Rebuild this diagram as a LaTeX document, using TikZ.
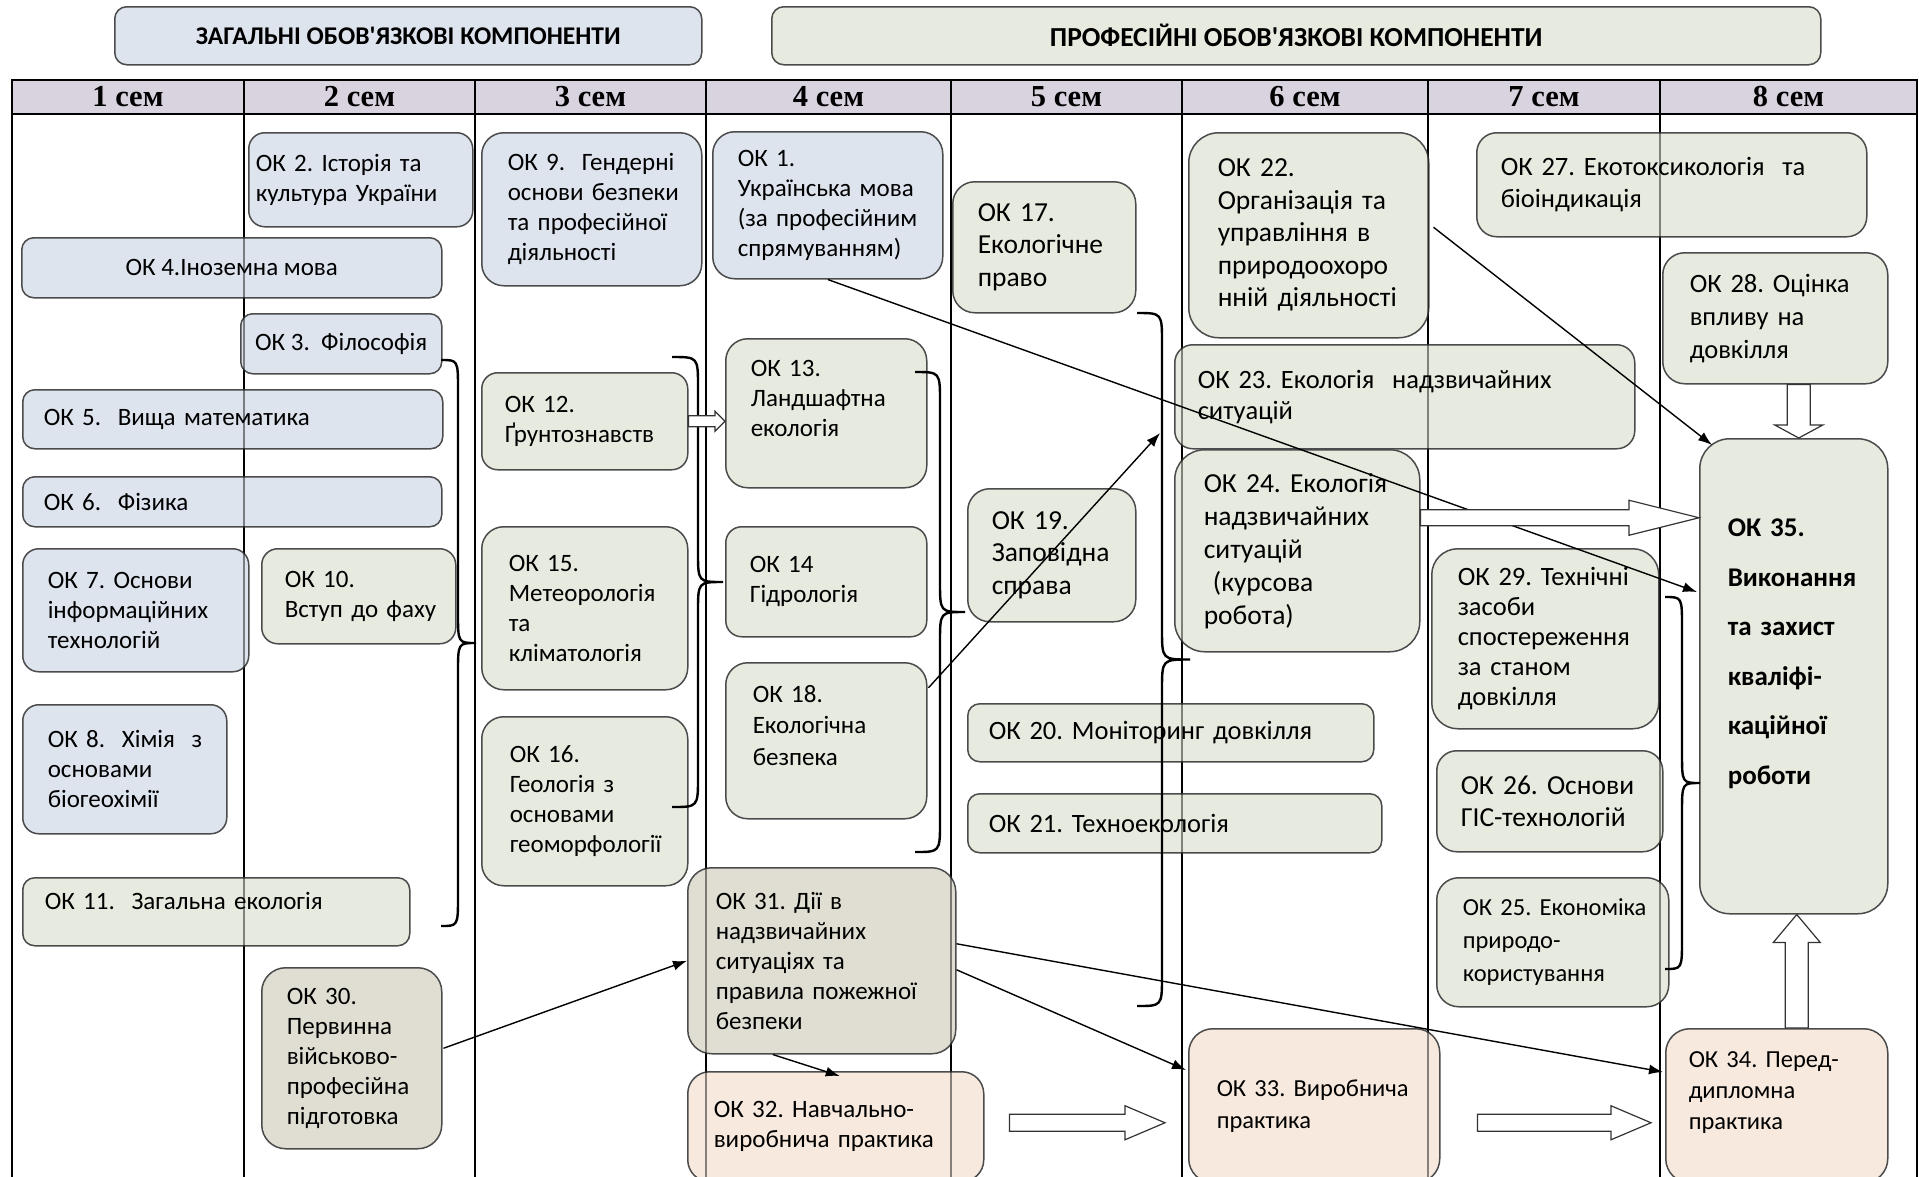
\documentclass[tikz,border=0pt]{standalone}
\usepackage{fontspec}
\setmainfont{Carlito}
\newfontfamily\semfont{Liberation Serif}
\usetikzlibrary{arrows.meta,calc}
\definecolor{genfill}{RGB}{221,228,238}
\definecolor{proffill}{RGB}{231,234,223}
\definecolor{darkfill}{RGB}{224,222,210}
\definecolor{practfill}{RGB}{247,233,221}
\definecolor{semfill}{RGB}{217,211,224}
\definecolor{boxline}{RGB}{75,75,75}
\frenchspacing

\begin{document}
\begin{tikzpicture}[x=1pt,y=-1pt,
        okbox/.style={draw=boxline,line width=1.5pt,rounded corners=16pt,anchor=north west,align=left,inner ysep=0pt,font=\fontsize{25}{30}\selectfont},
        gen/.style={okbox,fill=genfill},
        prof/.style={okbox,fill=proffill},
        dark/.style={okbox,fill=darkfill},
        pract/.style={okbox,fill=practfill},
        wide/.style={font=\fontsize{27.5}{32.5}\selectfont},
        mid/.style={font=\fontsize{26.5}{32}\selectfont},
        small/.style={font=\fontsize{24.5}{32}\selectfont},
        semhead/.style={font=\semfont\bfseries\fontsize{30.5}{32}\selectfont},
        thinarr/.style={line width=1.4pt,-{Latex[length=14pt,width=10pt]}},
        fatarr/.style={draw=black!80,line width=1.2pt,fill=white},
        brace/.style={line width=2.4pt}]
    \useasboundingbox (0,0) rectangle (1919,1176);
    % table of semesters
    \fill[semfill] (12,80) rectangle (1917,114);
    \draw[line width=1.8pt] (12,80) rectangle (1917,1200);
    \draw[line width=1.8pt] (12,114) -- (1917,114);
    \foreach \x in {244,475,706,951,1182,1428,1660}
        \draw[line width=1.3pt] (\x,80) -- (\x,1200);
    \foreach \n/\x in {1/128,2/359.5,3/590.5,4/828.5,5/1066.5,6/1305,7/1544,8/1788.5}
        \node[semhead] (sem\n) at (\x,97) {\n{} сем};
    % groups
    \node[draw=boxline,line width=1.5pt,rounded corners=12pt,fill=genfill,anchor=north west,minimum width=587pt,minimum height=58pt,font=\bfseries\fontsize{25.5}{27}\selectfont] (gencomp) at (114,6) {ЗАГАЛЬНІ ОБОВ\textquotesingle ЯЗКОВІ КОМПОНЕНТИ};
    \node[draw=boxline,line width=1.5pt,rounded corners=12pt,fill=proffill,anchor=north west,minimum width=1049pt,minimum height=58pt,font=\bfseries\fontsize{27.5}{29}\selectfont] (profcomp) at (771,6) {ПРОФЕСІЙНІ ОБОВ\textquotesingle ЯЗКОВІ КОМПОНЕНТИ};

    % 1-2 sem
    \node[gen,minimum width=224pt,minimum height=94pt,inner xsep=7pt,text width=210pt] (ok2) at (248,132) {ОК~2. Історія~та\\культура~України};
    \node[gen,minimum width=420pt,minimum height=60pt,align=center,rounded corners=12pt] (ok4) at (21,237) {ОК 4.Іноземна мова};
    \node[gen,minimum width=201pt,minimum height=60pt,align=center,rounded corners=12pt] (ok3) at (240,313) {ОК~3.~~Філософія};
    \node[gen,minimum width=420pt,minimum height=59pt,inner xsep=21pt,text width=378pt,rounded corners=12pt] (ok5) at (22,389) {ОК 5.~~Вища математика};
    \node[gen,minimum width=419pt,minimum height=50pt,inner xsep=21pt,text width=377pt,rounded corners=12pt] (ok6) at (22,476) {ОК 6.~~Фізика};
    \node[gen,minimum width=226pt,minimum height=123pt,inner xsep=25pt,text width=176pt] (ok7) at (22,548) {ОК~7. Основи\\інформаційних\\технологій};
    \node[prof,minimum width=194pt,minimum height=95pt,inner xsep=23pt,text width=148pt] (ok10) at (261,548) {ОК 10.\\Вступ~до~фаху};
    \node[gen,minimum width=204pt,minimum height=129pt,inner xsep=25pt,text width=154pt] (ok8) at (22,704) {ОК~8.~~Хімія~~з\\основами\\біогеохімії};
    \node[prof,minimum width=387pt,minimum height=68pt,inner xsep=22pt,text width=343pt,rounded corners=12pt] (ok11) at (22,877) {ОК 11.~~Загальна екологія\\[-8pt]\mbox{}};
    \node[dark,minimum width=180pt,minimum height=181pt,inner xsep=25pt,text width=130pt,rounded corners=24pt] (ok30) at (261,967) {ОК 30.\\Первинна\\військово-\\професійна\\підготовка};

    % 3-4 sem
    \node[gen,minimum width=220pt,minimum height=153pt,inner xsep=26pt,text width=168pt,rounded corners=22pt] (ok9) at (481,132) {ОК~9.~~Гендерні\\основи~безпеки\\та~професійної\\діяльності};
    \node[prof,minimum width=206pt,minimum height=97pt,inner xsep=23pt,text width=160pt] (ok12) at (481,372) {ОК 12.\\Ґрунтознавств};
    \node[prof,minimum width=206pt,minimum height=163pt,inner xsep=27pt,text width=152pt,rounded corners=22pt] (ok15) at (481,526) {ОК 15.\\Метеорологія\\та\\кліматологія};
    \node[prof,minimum width=206pt,minimum height=169pt,inner xsep=28pt,text width=150pt,rounded corners=22pt] (ok16) at (481,716) {ОК 16.\\Геологія~з\\основами\\геоморфології};
    \node[gen,minimum width=230pt,minimum height=147pt,inner xsep=25pt,text width=180pt,rounded corners=22pt] (ok1) at (712,131) {ОК 1.\\Українська~мова\\(за~професійним\\спрямуванням)};
    \node[prof,minimum width=201pt,minimum height=149pt,inner xsep=25pt,text width=151pt,rounded corners=22pt] (ok13) at (725,338) {ОК 13.\\Ландшафтна\\екологія\\\mbox{}};
    \node[prof,minimum width=201pt,minimum height=110pt,inner xsep=24pt,text width=153pt] (ok14) at (725,526) {ОК 14\\Гідрологія};
    \node[prof,font=\fontsize{25}{31.5}\selectfont,minimum width=201pt,minimum height=156pt,inner xsep=27pt,text width=147pt,rounded corners=22pt] (ok18) at (725,662) {ОК 18.\\Екологічна\\безпека\\\mbox{}};
    \node[dark,minimum width=268pt,minimum height=186pt,inner xsep=28pt,text width=212pt,rounded corners=24pt] (ok31) at (687,867) {ОК~31.~Дії~в\\надзвичайних\\ситуаціях~та\\правила~пожежної\\безпеки};
    \node[pract,minimum width=296pt,minimum height=110pt,inner xsep=26pt,text width=244pt,rounded corners=22pt] (ok32) at (687,1071) {ОК~32. Навчально-\\виробнича~практика};

    % 5-6 sem
    \node[prof,wide,minimum width=183pt,minimum height=131pt,inner xsep=25pt,text width=133pt,rounded corners=22pt] (ok17) at (952,181) {ОК 17.\\Екологічне\\право};
    \node[prof,wide,minimum width=168pt,minimum height=133pt,inner xsep=24pt,text width=120pt,rounded corners=22pt] (ok19) at (967,488) {ОК 19.\\Заповідна\\справа};
    \node[prof,mid,minimum width=406pt,minimum height=58pt,inner xsep=21pt,text width=364pt,rounded corners=12pt] (ok20) at (967,703) {ОК 20. Моніторинг довкілля};
    \node[prof,mid,minimum width=414pt,minimum height=59pt,inner xsep=21pt,text width=372pt,rounded corners=12pt] (ok21) at (967,793) {ОК 21. Техноекологія};
    \node[prof,wide,minimum width=240pt,minimum height=205pt,inner xsep=29pt,text width=182pt,rounded corners=30pt] (ok22) at (1188,132) {ОК 22.\\Організація~та\\управління~в\\природоохоро\\нній~діяльності};
    \node[prof,font=\fontsize{26.5}{31}\selectfont,minimum width=460pt,minimum height=104pt,inner xsep=23pt,text width=414pt,rounded corners=18pt] (ok23) at (1174,344) {ОК 23. Екологія~~надзвичайних\\ситуацій};
    \node[prof,font=\fontsize{27.5}{33}\selectfont,minimum width=245pt,minimum height=202pt,inner xsep=29pt,text width=187pt,rounded corners=30pt] (ok24) at (1174,449) {ОК~24.~Екологія\\надзвичайних\\ситуацій\\\ (курсова\\робота)};
    \node[pract,small,minimum width=251pt,minimum height=154pt,inner xsep=28pt,text width=195pt,rounded corners=24pt] (ok33) at (1188,1028) {ОК~33.~Виробнича\\практика};

    % 7-8 sem
    \node[prof,mid,minimum width=390pt,minimum height=104pt,inner xsep=24pt,text width=342pt,rounded corners=20pt] (ok27) at (1476,132) {ОК 27. Екотоксикологія~~та\\біоіндикація};
    \node[prof,font=\fontsize{26.5}{33}\selectfont,minimum width=225pt,minimum height=131pt,inner xsep=27pt,text width=171pt,rounded corners=22pt] (ok28) at (1662,252) {ОК~28.~Оцінка\\впливу~на\\довкілля};
    \node[prof,font=\bfseries\fontsize{27}{49.5}\selectfont,minimum width=188pt,minimum height=475pt,inner xsep=28pt,text width=132pt,rounded corners=30pt] (ok35) at (1699,438) {ОК 35.\\Виконання\\та~захист\\кваліфі-\\каційної\\роботи\\\mbox{}};
    \node[prof,font=\fontsize{26.5}{30}\selectfont,minimum width=227pt,minimum height=180pt,inner xsep=26pt,text width=175pt,rounded corners=26pt] (ok29) at (1431,548) {ОК~29.~Технічні\\засоби\\спостереження\\за~станом\\довкілля};
    \node[prof,wide,minimum width=226pt,minimum height=101pt,inner xsep=24pt,text width=178pt,rounded corners=20pt] (ok26) at (1436,750) {ОК~26.~Основи\\\mbox{ГІС-технологій}};
    \node[prof,font=\fontsize{24.5}{33}\selectfont,minimum width=232pt,minimum height=129pt,inner xsep=26pt,text width=180pt,rounded corners=22pt] (ok25) at (1436,877) {ОК~25.~Економіка\\природо-\\користування};
    \node[pract,font=\fontsize{24.5}{31}\selectfont,minimum width=222pt,minimum height=154pt,inner xsep=23pt,text width=176pt,rounded corners=24pt] (ok34) at (1665,1028) {ОК~34.~Перед-\\дипломна\\практика\\\mbox{}};

    % column lines seen through the boxes
    \foreach \x in {244,475,706,951,1182,1428,1660}
        \draw[line width=1.2pt,opacity=0.45] (\x,114) -- (\x,1200);

    % braces
    \foreach \xa/\ya/\yb/\xv/\xt in {441/360/926/458/476,672/357/807/698/723,915/372/852/940/965,1137/313/1006/1162/1190,1665/597/969/1682/1700}{
        \pgfmathsetmacro\ym{(\ya+\yb)/2}
        \draw[brace] (\xa,\ya) .. controls (\xv,\ya) .. (\xv,\ya+30) -- (\xv,\ym-30) .. controls (\xv,\ym) .. (\xt,\ym)
            .. controls (\xv,\ym) .. (\xv,\ym+30) -- (\xv,\yb-30) .. controls (\xv,\yb) .. (\xa,\yb);
    }

    % links
    \coordinate (ok18tip) at (1160,433);
    \draw[thinarr] (ok1.south) -- ($(ok35.north west)+(-2,154)$);
    \draw[thinarr] ($(ok22.east)+(4,-8)$) -- ($(ok35.north west)+(13,7)$);
    \draw[thinarr] ($(ok18.east)+(1,-53)$) -- (ok18tip);
    \draw[thinarr] ($(ok30.east)+(1,-10)$) -- (ok31.west);
    \draw[thinarr] ($(ok31.south)+(-49,0)$) -- ($(ok32.north)+(4,5)$);
    \draw[thinarr] ($(ok31.east)+(0,9)$) -- ($(ok33.north west)+(-2,42)$);
    \draw[thinarr] ($(ok31.east)+(0,-17)$) -- ($(ok34.north west)+(-2,44)$);

    % hollow arrows
    \draw[fatarr] let \p1=(ok12.east), \p2=(ok13.west) in
        (\x1,\y1+5.5pt) -- (\x2-10pt,\y1+5.5pt) -- (\x2-10pt,\y1+10pt) -- (\x2,\y1) -- (\x2-10pt,\y1-10pt) -- (\x2-10pt,\y1-5.5pt) -- (\x1,\y1-5.5pt) -- cycle;
    \draw[fatarr] let \p1=($(ok24.east)+(0,-33)$), \p2=(ok35.west) in
        (\x1,\y1+8pt) -- (\x2-70pt,\y1+8pt) -- (\x2-70pt,\y1+17.5pt) -- (\x2,\y1) -- (\x2-70pt,\y1-17.5pt) -- (\x2-70pt,\y1-8pt) -- (\x1,\y1-8pt) -- cycle;
    \draw[fatarr] let \p1=($(ok32.east)+(25,-4)$), \p2=($(ok33.west)+(-23,0)$) in
        (\x1,\y1+8.5pt) -- (\x2-40pt,\y1+8.5pt) -- (\x2-40pt,\y1+17pt) -- (\x2,\y1) -- (\x2-40pt,\y1-17pt) -- (\x2-40pt,\y1-8.5pt) -- (\x1,\y1-8.5pt) -- cycle;
    \draw[fatarr] let \p1=($(ok33.east)+(37,17)$), \p2=($(ok34.west)+(-14,0)$) in
        (\x1,\y1+8.5pt) -- (\x2-40pt,\y1+8.5pt) -- (\x2-40pt,\y1+17pt) -- (\x2,\y1) -- (\x2-40pt,\y1-17pt) -- (\x2-40pt,\y1-8.5pt) -- (\x1,\y1-8.5pt) -- cycle;
    \draw[fatarr] let \p1=(ok28.south), \p2=($(ok35.north)+(5,0)$) in
        (\x2-11.5pt,\y1) -- (\x2-11.5pt,\y2+13pt) -- (\x2-24pt,\y2+13pt) -- (\x2,\y2) -- (\x2+24pt,\y2+13pt) -- (\x2+11.5pt,\y2+13pt) -- (\x2+11.5pt,\y1) -- cycle;
    \draw[fatarr] let \p1=(ok34.north), \p2=($(ok35.south)+(3,0)$) in
        (\x2-11.5pt,\y1) -- (\x2-11.5pt,\y2-28pt) -- (\x2-23.5pt,\y2-28pt) -- (\x2,\y2) -- (\x2+23.5pt,\y2-28pt) -- (\x2+11.5pt,\y2-28pt) -- (\x2+11.5pt,\y1) -- cycle;
\end{tikzpicture}
\end{document}
